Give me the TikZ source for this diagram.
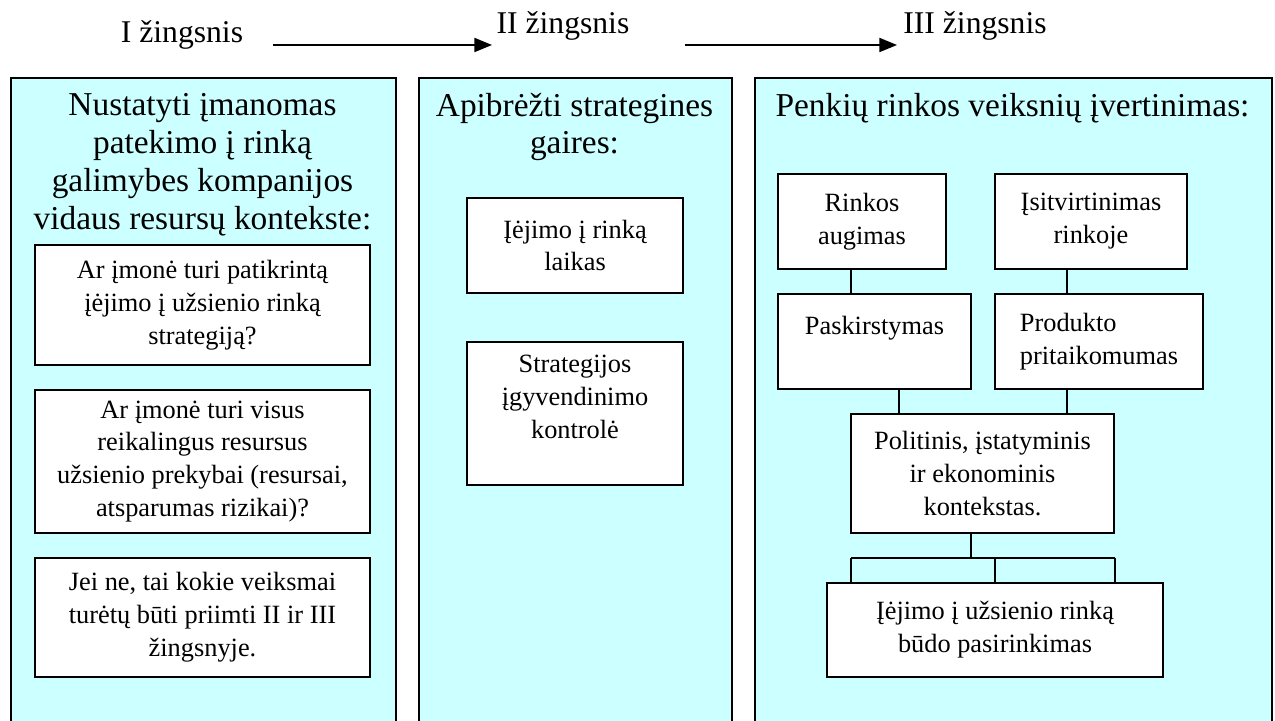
\documentclass[tikz,border=0pt]{standalone}
\usepackage{fontspec}
\setmainfont{Liberation Serif}
\usepackage{tikz}
\usetikzlibrary{positioning}
\usetikzlibrary{arrows.meta}
\definecolor{panelcyan}{RGB}{204,255,255}
\newcommand{\stepfont}{\fontsize{18}{21}\selectfont}
\newcommand{\titlefont}{\fontsize{19}{21.6}\selectfont}
\newcommand{\boxfont}{\fontsize{15}{18.7}\selectfont}
\tikzset{
    panel/.style={draw, fill=panelcyan, line width=0.9pt, anchor=north west, minimum height=13cm},
    boxnode/.style={draw, fill=white, line width=0.9pt, align=center, font=\boxfont, inner sep=0pt},
    link/.style={line width=0.9pt},
    steparrow/.style={line width=0.9pt, -{Triangle[length=10pt,width=8pt]}},
}

\begin{document}
\begin{tikzpicture}
    \useasboundingbox (0,0) rectangle (25.5,14.4);
    % steps on top
    \path
        node (s1) at (3.64,13.7) [font=\stepfont] {I žingsnis}
        node (s2) at (11.26,13.88) [font=\stepfont] {II žingsnis}
        node (s3) at (19.5,13.88)  [font=\stepfont] {III žingsnis};
    \coordinate (a1) at (5.46,13.5);
    \coordinate (a2) at (9.84,13.5);
    \coordinate (a3) at (13.7,13.5);
    \coordinate (a4) at (17.94,13.5);
    \draw[steparrow] (a1) -- (a2);
    \draw[steparrow] (a3) -- (a4);

    % the three panels
    \node[panel, minimum width=7.7cm]   (p1) at (0.2,12.86)  {};
    \node[panel, minimum width=6.26cm]  (p2) at (8.36,12.86) {};
    \node[panel, minimum width=10.34cm] (p3) at (15.08,12.86) {};
    \path
        node (t1) at (4.05,11.1) [font=\titlefont, align=center]
            {Nustatyti įmanomas\\ patekimo į rinką\\ galimybes kompanijos\\ vidaus resursų kontekste:}
        node (t2) at (11.49,11.86) [font=\titlefont, align=center]
            {Apibrėžti strategines\\ gaires:}
        node (t3) at (20.25,12.24) [font=\titlefont] {Penkių rinkos veiksnių įvertinimas:};

    % I zingsnis
    \node[boxnode, minimum width=6.7cm, minimum height=2.4cm] (qa) at (4.05,8.3)
        {Ar įmonė turi patikrintą\\ įėjimo į užsienio rinką\\ strategiją?};
    \node[boxnode, minimum width=6.7cm, minimum height=2.86cm] (qb) at (4.05,5.17)
        {Ar įmonė turi visus\\ reikalingus resursus\\ užsienio prekybai (resursai,\\ atsparumas rizikai)?};
    \node[boxnode, minimum width=6.7cm, minimum height=2.38cm] (qc) at (4.05,2.05)
        {Jei ne, tai kokie veiksmai\\ turėtų būti priimti II ir III\\ žingsnyje.};

    % II zingsnis
    \node[boxnode, minimum width=4.32cm, minimum height=1.9cm] (laikas) at (11.5,9.49)
        {Įėjimo į rinką\\ laikas};
    \node[boxnode, minimum width=4.32cm, minimum height=2.86cm] (kontrole) at (11.5,6.13)
        {Strategijos\\ įgyvendinimo\\ kontrolė\\ \mbox{}};

    % III zingsnis
    \node[boxnode, minimum width=3.36cm, minimum height=1.9cm] (augimas) at (17.24,9.97)
        {Rinkos\\ augimas};
    \node[boxnode, minimum width=3.84cm, minimum height=1.9cm] (isitv) at (21.82,9.97)
        {Įsitvirtinimas\\ rinkoje};
    \node[boxnode, minimum width=3.86cm, minimum height=1.9cm] (pask) at (17.49,7.57)
        {Paskirstymas\\ \mbox{}};
    \node[boxnode, align=left, minimum width=4.16cm, minimum height=1.9cm] (prod) at (21.98,7.57)
        {Produkto\\ pritaikomumas};
    \node[boxnode, minimum width=5.26cm, minimum height=2.38cm] (polit) at (19.65,4.93)
        {Politinis, įstatyminis\\ ir ekonominis\\ kontekstas.};
    \node[boxnode, minimum width=6.72cm, minimum height=1.88cm] (budas) at (19.9,1.8)
        {Įėjimo į užsienio rinką\\ būdo pasirinkimas};

    \draw[link] ([xshift=-0.22cm]augimas.south) -- ([xshift=-0.22cm]augimas.south |- pask.north);
    \draw[link] ([xshift=-0.48cm]isitv.south) -- ([xshift=-0.48cm]isitv.south |- prod.north);
    \draw[link] ([xshift=0.49cm]pask.south) -- ([xshift=0.49cm]pask.south |- polit.north);
    \draw[link] ([xshift=-0.64cm]prod.south) -- ([xshift=-0.64cm]prod.south |- polit.north);

    \coordinate (barL) at (17.02,3.24);
    \coordinate (barR) at (22.3,3.24);
    \draw[link] ([xshift=-0.23cm]polit.south) -- ([xshift=-0.23cm]polit.south |- barL);
    \draw[link] (barL) -- (barR);
    \draw[link] (barL) -- (barL |- budas.north);
    \draw[link] (budas.north) -- (budas.north |- barL);
    \draw[link] (barR) -- (barR |- budas.north);
\end{tikzpicture}
\end{document}
